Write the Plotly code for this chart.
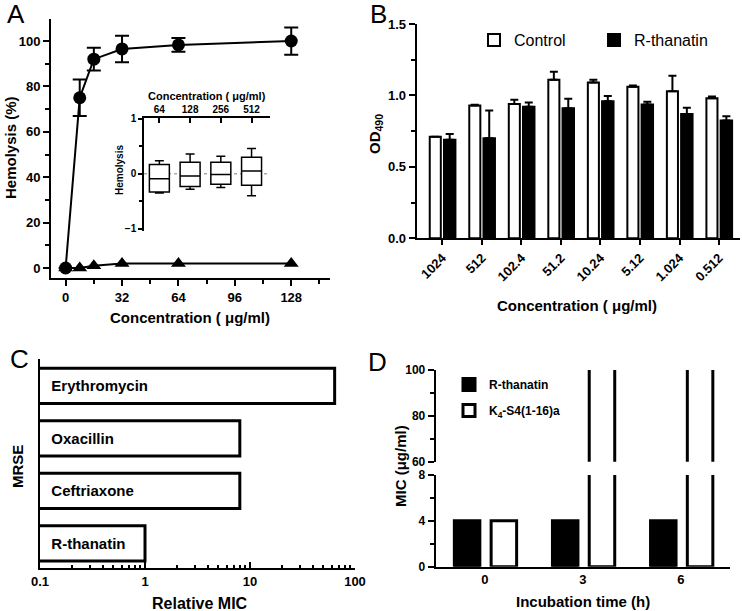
import plotly.graph_objects as go

# ---------------- Data ----------------
# Panel A: hemolysis vs concentration
conc_a = [0, 8, 16, 32, 64, 128]
hemo_circle = [0, 75, 92, 96.5, 98.3, 100]
hemo_circle_err = [0, 8, 5, 5.8, 3, 6]
hemo_triangle = [0, 0, 1, 2, 2, 2]

# Panel A inset: box plots
inset_conc = ["64", "128", "256", "512"]
inset_min = [-0.35, -0.28, -0.25, -0.40]
inset_q1 = [-0.33, -0.23, -0.19, -0.21]
inset_median = [-0.09, -0.04, -0.01, 0.05]
inset_q3 = [0.17, 0.21, 0.21, 0.30]
inset_max = [0.24, 0.36, 0.32, 0.46]

# Panel B: OD490
conc_b = ["1024", "512", "102.4", "51.2", "10.24", "5.12", "1.024", "0.512"]
od_control = [0.71, 0.93, 0.94, 1.11, 1.09, 1.06, 1.03, 0.98]
od_control_err = [0.0, 0.005, 0.03, 0.055, 0.02, 0.01, 0.107, 0.012]
od_rthanatin = [0.69, 0.70, 0.92, 0.91, 0.96, 0.937, 0.87, 0.825]
od_rthanatin_err = [0.04, 0.195, 0.03, 0.067, 0.036, 0.019, 0.044, 0.03]

# Panel C: relative MIC
drugs = ["R-thanatin", "Ceftriaxone", "Oxacillin", "Erythromycin"]
relative_mic = [1, 8, 8, 64]

# Panel D: MIC over incubation time
times = ["0", "3", "6"]
mic_rthanatin = [4, 4, 4]
mic_k4 = [4, 128, 128]

# ---------------- Layout helpers ----------------
W, H = 742, 611
FONT = "Liberation Sans, Arial, sans-serif"


def px_x(a, b):
    return [a / W, b / W]


def px_y(top, bottom):
    return [1 - bottom / H, 1 - top / H]


def bold(size):
    return dict(family=FONT, size=size, color="black", weight="bold")


axis_common = dict(showline=True, linecolor="black", linewidth=2, showgrid=False,
                   zeroline=False, ticks="outside", tickcolor="black", tickwidth=2,
                   fixedrange=True, automargin=False)

fig = go.Figure()

# ---- Panel A main ----
fig.add_trace(go.Scatter(
    x=conc_a, y=hemo_circle, mode="lines+markers",
    line=dict(color="black", width=2),
    marker=dict(symbol="circle", size=13, color="black"),
    error_y=dict(type="data", array=hemo_circle_err, color="black", thickness=2, width=7),
    xaxis="x", yaxis="y", showlegend=False, cliponaxis=False))
fig.add_trace(go.Scatter(
    x=conc_a, y=hemo_triangle, mode="lines+markers",
    line=dict(color="black", width=2),
    marker=dict(symbol="triangle-up", size=13, color="black"),
    xaxis="x", yaxis="y", showlegend=False, cliponaxis=False))

# ---- Panel A inset ----
fig.add_trace(go.Box(
    x=inset_conc, q1=inset_q1, median=inset_median, q3=inset_q3,
    lowerfence=inset_min, upperfence=inset_max,
    fillcolor="white", line=dict(color="black", width=1.5),
    whiskerwidth=0.45, width=0.65, boxpoints=False,
    xaxis="x2", yaxis="y2", showlegend=False))

# ---- Panel B ----
fig.add_trace(go.Bar(
    x=conc_b, y=od_control, name="Control",
    marker=dict(color="white", line=dict(color="black", width=2)),
    width=0.28, offset=-0.32,
    error_y=dict(type="data", symmetric=False, array=od_control_err,
                 arrayminus=[0] * len(od_control_err), color="black", thickness=2, width=4),
    xaxis="x3", yaxis="y3", legend="legend"))
fig.add_trace(go.Bar(
    x=conc_b, y=od_rthanatin, name="R-thanatin",
    marker=dict(color="black", line=dict(color="black", width=2)),
    width=0.29, offset=0.04,
    error_y=dict(type="data", symmetric=False, array=od_rthanatin_err,
                 arrayminus=[0] * len(od_rthanatin_err), color="black", thickness=2, width=4),
    xaxis="x3", yaxis="y3", legend="legend"))

# ---- Panel C ----
fig.add_trace(go.Bar(
    y=drugs, x=relative_mic, orientation="h",
    marker=dict(color="white", line=dict(color="black", width=3)),
    width=0.67,
    text=["\u00a0\u00a0" + d for d in drugs], textposition="inside",
    insidetextanchor="start", textangle=0,
    textfont=bold(15),
    xaxis="x4", yaxis="y4", showlegend=False))

# ---- Panel D (lower and upper segments of broken axis) ----
for xa, ya, show in (("x5", "y5", True), ("x6", "y6", False)):
    fig.add_trace(go.Bar(
        x=times, y=mic_rthanatin, name="R-thanatin",
        marker=dict(color="black", line=dict(color="black", width=3)),
        width=0.26, offset=-0.31,
        xaxis=xa, yaxis=ya, showlegend=show, legend="legend2", legendgroup="r"))
    fig.add_trace(go.Bar(
        x=times, y=mic_k4, name="K<sub>4</sub>-S4(1-16)a",
        marker=dict(color="white", line=dict(color="black", width=3)),
        width=0.26, offset=0.065,
        xaxis=xa, yaxis=ya, showlegend=show, legend="legend2", legendgroup="k"))

tickA = bold(13)
tickD = bold(12)

fig.update_layout(
    template="none",
    width=W, height=H,
    margin=dict(l=0, r=0, t=0, b=0, autoexpand=False),
    paper_bgcolor="white", plot_bgcolor="rgba(0,0,0,0)",
    barmode="overlay",
    font=dict(family=FONT, color="black"),
    # Panel A main
    xaxis=dict(axis_common, domain=px_x(51, 330), anchor="y", range=[-8.3, 150],
               tick0=0, dtick=32, ticklen=6, tickfont=tickA,
               minor=dict(ticks="outside", dtick=16, ticklen=4, tickwidth=2, tickcolor="black")),
    yaxis=dict(axis_common, domain=px_y(19, 278), anchor="x", range=[-4.4, 109.7],
               tick0=0, dtick=20, ticklen=6, tickfont=tickA,
               minor=dict(ticks="outside", dtick=10, ticklen=4, tickwidth=2, tickcolor="black")),
    # Panel A inset
    xaxis2=dict(axis_common, domain=px_x(144, 270), anchor="y2", side="top", type="category",
                range=[-0.5, 3.6], ticks="inside", ticklen=5, tickwidth=1.5, linewidth=1.5,
                tickfont=bold(10)),
    yaxis2=dict(axis_common, domain=px_y(118.3, 231), anchor="x2", range=[-1.04, 1.01],
                tick0=0, dtick=1, ticklen=4, tickwidth=1.5, linewidth=1.5, tickfont=bold(10),
                minor=dict(ticks="outside", dtick=0.5, ticklen=3, tickwidth=1.5, tickcolor="black")),
    # Panel B
    xaxis3=dict(axis_common, domain=px_x(416.7, 740), anchor="y3", type="category",
                range=[-0.65, 7.53], tickangle=-45, ticklen=5, tickfont=tickA),
    yaxis3=dict(axis_common, domain=px_y(24, 238.3), anchor="x3", range=[0, 1.5],
                tick0=0, dtick=0.5, tickformat=".1f", ticklen=6, tickfont=tickA,
                minor=dict(ticks="outside", dtick=0.25, ticklen=4, tickwidth=2, tickcolor="black")),
    # Panel C
    xaxis4=dict(axis_common, domain=px_x(40, 355), anchor="y4", type="log", range=[-1, 2],
                dtick=1, ticks="inside", ticklen=6, tickfont=bold(13),
                minor=dict(ticks="inside", dtick="D1", ticklen=3, tickwidth=2, tickcolor="black")),
    yaxis4=dict(axis_common, domain=px_y(359, 568.3), anchor="x4", type="category",
                categoryorder="array", categoryarray=drugs, range=[-0.475, 3.51],
                ticks="", showticklabels=False),
    # Panel D lower
    xaxis5=dict(axis_common, domain=px_x(435.7, 730), anchor="y5", type="category",
                range=[-0.5, 2.5], ticks="", tickfont=tickA),
    yaxis5=dict(axis_common, domain=px_y(475, 566.7), anchor="x5", range=[0, 8],
                tick0=0, dtick=4, ticklen=6, tickfont=tickD,
                minor=dict(ticks="outside", dtick=2, ticklen=4, tickwidth=2, tickcolor="black")),
    # Panel D upper
    xaxis6=dict(domain=px_x(435.7, 730), anchor="y6", type="category", range=[-0.5, 2.5],
                visible=False, fixedrange=True, automargin=False),
    yaxis6=dict(axis_common, domain=px_y(370, 461.7), anchor="x6", range=[60, 100],
                tick0=60, dtick=20, ticklen=6, tickfont=tickD,
                minor=dict(ticks="outside", dtick=10, ticklen=4, tickwidth=2, tickcolor="black")),
    legend=dict(orientation="h", x=474 / W, y=1 - 40 / H, xanchor="left", yanchor="middle",
                font=dict(family=FONT, size=16, color="black"), bgcolor="rgba(0,0,0,0)",
                entrywidth=75, itemclick=False, itemdoubleclick=False),
    legend2=dict(orientation="v", x=449 / W, y=1 - 370 / H, xanchor="left", yanchor="top",
                 font=bold(12), bgcolor="rgba(0,0,0,0)", traceorder="grouped",
                 tracegroupgap=7, itemclick=False, itemdoubleclick=False),
)

# zero reference line in inset
fig.add_shape(type="line", xref="x2 domain", yref="y2", x0=0, x1=1, y0=0, y1=0,
              line=dict(color="gray", width=1, dash="dot"), layer="below")


def ann(text, x, y, size, angle=0, weight="bold"):
    fig.add_annotation(text=text, x=x / W, y=1 - y / H, xref="paper", yref="paper",
                       showarrow=False, textangle=angle, xanchor="center", yanchor="middle",
                       font=dict(family=FONT, size=size, color="black", weight=weight))


# axis titles
ann("Hemolysis (%)", 11, 148, 15, -90)
ann("Concentration ( μg/ml)", 190, 317, 15)
ann("Concentration ( μg/ml)", 206.7, 95.7, 11)
ann("Hemolysis", 120, 170, 10, -90)
ann("OD<sub>490</sub>", 376, 134, 15, -90)
ann("Concentration ( μg/ml)", 577, 305, 15)
ann("MRSE", 17, 467, 15, -90)
ann("Relative MIC", 200, 603, 16)
ann("MIC (μg/ml)", 401, 466, 15, -90)
ann("Incubation time (h)", 583, 601, 15)

# panel letters
ann("A", 16, 14, 26, weight="normal")
ann("B", 378, 14, 26, weight="normal")
ann("C", 19, 359, 26, weight="normal")
ann("D", 377, 362, 26, weight="normal")

fig.write_html(
    "out.html",
    config={"displayModeBar": False},
    post_script="document.body.style.margin='0';document.body.style.overflow='hidden';",
)
